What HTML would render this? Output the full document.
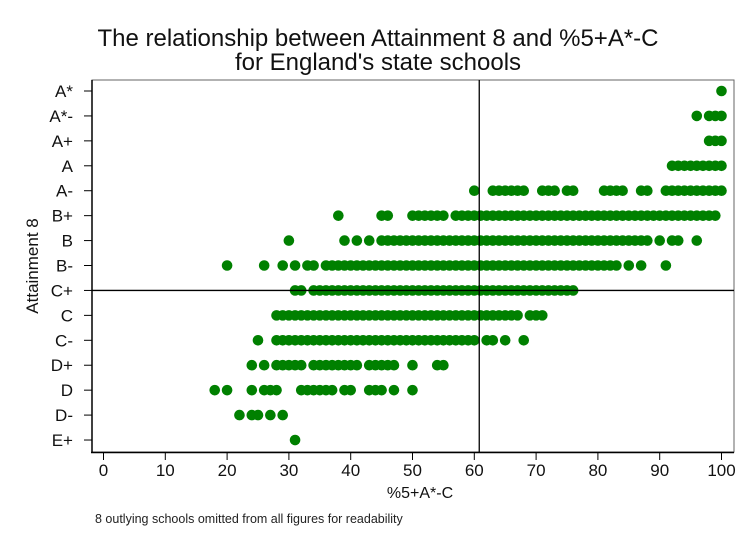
<!DOCTYPE html>
<html><head><meta charset="utf-8"><style>
body{margin:0;background:#fff;}
svg{display:block;font-family:"Liberation Sans",Arial,sans-serif;}
</style></head><body>
<svg width="754" height="548">
<g id="root"></g>
</svg>
<script>
const gradeLabels=["A*","A*-","A+","A","A-","B+","B","B-","C+","C","C-","D+","D","D-","E+"];
const xTicks=[0,10,20,30,40,50,60,70,80,90,100];
const rowAstar=[100];
const rowAstarMinus=[96,98,99,100];
const rowAplus=[98,99,100];
const rowA=[92,93,94,95,96,97,98,99,100];
const rowAminus=[60,63,64,65,66,67,68,71,72,73,75,76,81,82,83,84,87,88,91,92,93,94,95,96,97,98,99,100];
const rowBplus=[38,45,46,50,51,52,53,54,55,57,58,59,60,61,62,63,64,65,66,67,68,69,70,71,72,73,74,75,76,77,78,79,80,81,82,83,84,85,86,87,88,89,90,91,92,93,94,95,96,97,98,99];
const rowB=[30,39,41,43,45,46,47,48,49,50,51,52,53,54,55,56,57,58,59,60,61,62,63,64,65,66,67,68,69,70,71,72,73,74,75,76,77,78,79,80,81,82,83,84,85,86,87,88,90,92,93,96];
const rowBminus=[20,26,29,31,33,34,36,37,38,39,40,41,42,43,44,45,46,47,48,49,50,51,52,53,54,55,56,57,58,59,60,61,62,63,64,65,66,67,68,69,70,71,72,73,74,75,76,77,78,79,80,81,82,83,85,87,91];
const rowCplus=[31,32,34,35,36,37,38,39,40,41,42,43,44,45,46,47,48,49,50,51,52,53,54,55,56,57,58,59,60,61,62,63,64,65,66,67,68,69,70,71,72,73,74,75,76];
const rowC=[28,29,30,31,32,33,34,35,36,37,38,39,40,41,42,43,44,45,46,47,48,49,50,51,52,53,54,55,56,57,58,59,60,61,62,63,64,65,66,67,69,70,71];
const rowCminus=[25,28,29,30,31,32,33,34,35,36,37,38,39,40,41,42,43,44,45,46,47,48,49,50,51,52,53,54,55,56,57,58,59,60,62,63,65,68];
const rowDplus=[24,26,28,29,30,31,32,34,35,36,37,38,39,40,41,43,44,45,46,47,50,54,55];
const rowD=[18,20,24,26,27,28,32,33,34,35,36,37,39,40,43,44,45,47,50];
const rowDminus=[22,24,25,27,29];
const rowEplus=[31];
const rows=[rowAstar,rowAstarMinus,rowAplus,rowA,rowAminus,rowBplus,rowB,rowBminus,rowCplus,rowC,rowCminus,rowDplus,rowD,rowDminus,rowEplus];
const refX=60.8, refGrade=8;

const NS="http://www.w3.org/2000/svg";
const root=document.getElementById('root');
const X=v=>103.5+v*6.18;
const Y=i=>91+i*24.93;
function mk(t,a,parent){const e=document.createElementNS(NS,t);for(const k in a)e.setAttribute(k,a[k]);(parent||root).appendChild(e);return e;}

let t=mk('text',{x:378,y:46,'text-anchor':'middle','font-size':24,fill:'#111'});t.textContent="The relationship between Attainment 8 and %5+A*-C";

t=mk('text',{x:378,y:70,'text-anchor':'middle','font-size':24,fill:'#111'});t.textContent="for England's state schools";


let f=mk('rect',{x:92,y:80,width:642,height:372,fill:'none',stroke:'#666','stroke-width':1});

let ax=mk('line',{x1:92,y1:80,x2:92,y2:453,stroke:'#000','stroke-width':1.5});

ax=mk('line',{x1:91,y1:452.5,x2:734,y2:452.5,stroke:'#000','stroke-width':1.5});


gradeLabels.forEach((g,i)=>{
  const l=mk('line',{x1:84,y1:Y(i),x2:92,y2:Y(i),stroke:'#000'});
  
  const tx=mk('text',{x:73,y:Y(i)+6,'text-anchor':'end','font-size':17,fill:'#111'});tx.textContent=g;
  
});
xTicks.forEach(v=>{
  const l=mk('line',{x1:X(v),y1:453,x2:X(v),y2:460,stroke:'#000'});
  
  const tx=mk('text',{x:X(v),y:476,'text-anchor':'middle','font-size':17,fill:'#111'});tx.textContent=v;
  
});
t=mk('text',{x:420,y:498,'text-anchor':'middle','font-size':16,fill:'#111'});t.textContent="%5+A*-C";

t=mk('text',{x:0,y:0,'text-anchor':'middle','font-size':17,fill:'#111',transform:'translate(38,266) rotate(-90)'});t.textContent="Attainment 8";

t=mk('text',{x:95,y:523,'font-size':12.5,fill:'#222'});t.textContent="8 outlying schools omitted from all figures for readability";


const pts=mk('g',{});

rows.forEach((r,i)=>r.forEach(v=>{
  const c=mk('circle',{cx:X(v),cy:Y(i),r:5.3,fill:'#008000'},pts);
  
  
}));

let rl=mk('line',{x1:X(refX),y1:80,x2:X(refX),y2:452,stroke:'#000','stroke-width':1.3});

rl=mk('line',{x1:92,y1:Y(refGrade),x2:734,y2:Y(refGrade),stroke:'#000','stroke-width':1.3});

</script>
</body></html>
